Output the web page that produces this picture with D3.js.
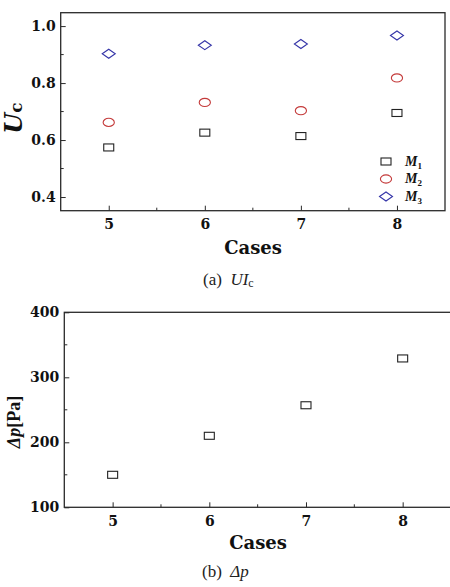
<!DOCTYPE html>
<html><head><meta charset="utf-8">
<script src="https://cdn.jsdelivr.net/npm/d3@7"></script>
<style>body{margin:0;background:#fff}svg{display:block}</style>
</head><body>
<svg id="c" width="450" height="587"></svg>
<script>
const cases = [5, 6, 7, 8];
const m1 = [0.574, 0.626, 0.614, 0.695];
const m2 = [0.662, 0.732, 0.703, 0.818];
const m3 = [0.903, 0.933, 0.937, 0.967];
const dp = [150, 210, 257, 329];
const uTicks = [0.4, 0.6, 0.8, 1.0];
const uMinor = [0.5, 0.7, 0.9];
const pTicks = [100, 200, 300, 400];
const pMinor = [150, 250, 350];
const xMinor = [5.5, 6.5, 7.5];
const legendNames = ["1", "2", "3"];

const svg = d3.select("#c");
const bold = "'DejaVu Serif', serif";
const times = "'Liberation Serif', 'Times New Roman', serif";
const ink = "#2a2a2a";

function panel(g, x, y, yTicks, yMinor, fmt) {
  const [x0, x1] = x.range();
  const [y0, y1] = y.range();
  const xa = d3.axisBottom(x).tickValues(cases).tickSize(-5).tickPadding(6).tickFormat(d3.format("d"));
  const gx = g.append("g").attr("transform", `translate(0,${y0})`).call(xa);
  const ya = d3.axisLeft(y).tickValues(yTicks).tickSize(-5).tickPadding(5).tickFormat(fmt);
  const gy = g.append("g").attr("transform", `translate(${x0},0)`).call(ya);
  [gx, gy].forEach(a => {
    a.select(".domain").remove();
    a.selectAll("line").attr("stroke", ink).attr("stroke-width", 1);
    a.selectAll("text").attr("font-family", bold).attr("font-weight", "bold")
      .attr("font-size", 14).attr("fill", "#111");
  });
  gx.selectAll("text").attr("dy", "0.9em");
  g.append("g").selectAll("line").data(xMinor).join("line")
    .attr("x1", d => x(d)).attr("x2", d => x(d)).attr("y1", y0).attr("y2", y0 - 3)
    .attr("stroke", ink);
  g.append("g").selectAll("line").data(yMinor).join("line")
    .attr("x1", x0).attr("x2", x0 + 3).attr("y1", d => y(d)).attr("y2", d => y(d))
    .attr("stroke", ink);
  g.append("rect").attr("x", x0).attr("y", y1).attr("width", x1 - x0).attr("height", y0 - y1)
    .attr("fill", "none").attr("stroke", ink).attr("stroke-width", 1.3);
}

function square(g, cx, cy, color) {
  g.append("rect").attr("x", cx - 5).attr("y", cy - 3.5).attr("width", 10).attr("height", 7)
    .attr("fill", "none").attr("stroke", color).attr("stroke-width", 1.1);
}
function circle(g, cx, cy, color) {
  g.append("ellipse").attr("cx", cx).attr("cy", cy).attr("rx", 5.6).attr("ry", 4.1)
    .attr("fill", "none").attr("stroke", color).attr("stroke-width", 1.1);
}
function diamond(g, cx, cy, color) {
  g.append("path").attr("d", `M${cx - 6.5},${cy}L${cx},${cy - 4.5}L${cx + 6.5},${cy}L${cx},${cy + 4.5}Z`)
    .attr("fill", "none").attr("stroke", color).attr("stroke-width", 1.1);
}

const black = "#222", red = "#c43a3a", blue = "#3535a8";

// ---- Panel (a)
const ga = svg.append("g");
const xA = d3.scaleLinear().domain([4.5, 8.5]).range([60.7, 445]);
const yA = d3.scaleLinear().domain([0.352, 1.047]).range([210.7, 12.7]);
panel(ga, xA, yA, uTicks, uMinor, d3.format(".1f"));
cases.forEach((c, i) => {
  square(ga, xA(c), yA(m1[i]), black);
  circle(ga, xA(c), yA(m2[i]), red);
  diamond(ga, xA(c), yA(m3[i]), blue);
});
// legend
const legY = [161.5, 179, 196.5];
const legFns = [square, circle, diamond];
const legCols = [black, red, blue];
legendNames.forEach((n, i) => {
  legFns[i](ga, 386, legY[i], legCols[i]);
  const t = ga.append("text").attr("x", 405).attr("y", legY[i] + 4)
    .attr("font-family", times).attr("font-weight", "bold").attr("font-size", 14).attr("fill", "#111");
  t.append("tspan").attr("font-style", "italic").text("M");
  t.append("tspan").attr("font-size", 9).attr("dy", 3).text(n);
});
// axis titles
ga.append("text").attr("transform", "translate(22,118) rotate(-90)").attr("text-anchor", "middle")
  .attr("font-family", bold).attr("font-weight", "bold").attr("fill", "#111")
  .call(t => {
    t.append("tspan").attr("font-style", "italic").attr("font-size", 24).text("U");
    t.append("tspan").attr("font-size", 17).text("c");
  });
ga.append("text").attr("x", 253).attr("y", 253.5).attr("text-anchor", "middle")
  .attr("font-family", bold).attr("font-weight", "bold").attr("font-size", 18).attr("fill", "#111").text("Cases");
ga.append("text").attr("x", 203).attr("y", 285).attr("font-family", times).attr("font-size", 17).attr("fill", "#222")
  .call(t => {
    t.append("tspan").text("(a)\u00a0\u00a0");
    t.append("tspan").attr("font-style", "italic").text("UI");
    t.append("tspan").attr("font-size", 12).attr("dy", 2).text("c");
  });

// ---- Panel (b)
const gb = svg.append("g");
const xB = d3.scaleLinear().domain([4.5, 8.5]).range([64.3, 451]);
const yB = d3.scaleLinear().domain([100, 400]).range([507.3, 312.3]);
panel(gb, xB, yB, pTicks, pMinor, d3.format("d"));
cases.forEach((c, i) => square(gb, xB(c), yB(dp[i]), black));
gb.append("text").attr("transform", "translate(20,422) rotate(-90)").attr("text-anchor", "middle")
  .attr("font-family", times).attr("font-weight", "bold").attr("font-size", 18).attr("fill", "#111")
  .call(t => {
    t.append("tspan").attr("font-style", "italic").text("\u0394p");
    t.append("tspan").text("[Pa]");
  });
gb.append("text").attr("x", 258).attr("y", 549).attr("text-anchor", "middle")
  .attr("font-family", bold).attr("font-weight", "bold").attr("font-size", 18).attr("fill", "#111").text("Cases");
gb.append("text").attr("x", 202).attr("y", 577).attr("font-family", times).attr("font-size", 17).attr("fill", "#222")
  .call(t => {
    t.append("tspan").text("(b)\u00a0\u00a0");
    t.append("tspan").attr("font-style", "italic").text("\u0394p");
  });
</script>
</body></html>
